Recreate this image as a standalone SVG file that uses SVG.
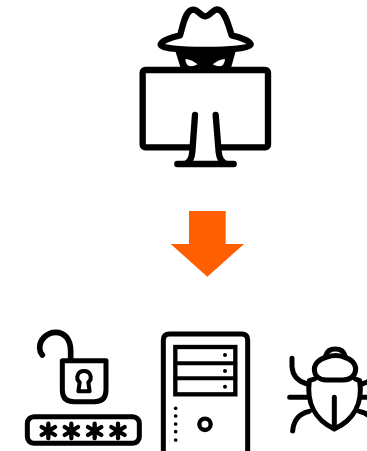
<svg xmlns="http://www.w3.org/2000/svg" width="367" height="451" viewBox="0 0 367 451">
<style>
.l{fill:none;stroke:#000;stroke-linecap:round;stroke-linejoin:round}
.a{stroke-width:19}
.b{stroke-width:15}
.d{fill:#000}
</style>
<rect width="367" height="451" fill="#fff"/>
<g id="spy" transform="translate(130,0) scale(.33333)">
<path class="d" d="M135 150H318L302 208H153Z"/>
<path fill="#fff" d="M166 177Q185 178 203 193Q183 203 172 195Q166 187 166 177ZM285 177Q266 178 248 193Q268 203 279 195Q285 187 285 177Z"/>
<path class="l a" d="M150 106C160 75 165 30 190 29C205 29 212 49 226 49C240 49 248 28 262 28C285 30 295 75 305 106C335 112 362 125 362 134C362 145 300 150 226 150C150 150 92 145 92 134C92 125 120 112 150 106Z"/>
<rect class="l a" x="38" y="210" width="376" height="232" rx="8"/>
<path fill="#fff" d="M195 345L186 492H268L257 345Z"/>
<path class="l a" d="M195 345L187 455Q185 485 165 492M257 345L266 455Q268 485 290 492M142 492H311"/>
</g>
<g id="arrow" transform="translate(160,200) scale(.33333)">
<path fill="#ff5f00" d="M87 33H197V132H252L142 230L32 132H87Z"/>
</g>
<g id="lock" transform="translate(15,325) scale(.33333)">
<path class="l b" d="M142 107H273V195Q273 230 238 230H177Q142 230 142 195Z"/>
<path class="l" stroke-width="17" d="M167 105V78C167 42 148 22 122 22C95 22 74 45 74 68Q74 80 82 90"/>
<path class="l" stroke-width="12" d="M194 172C180 160 188 138 207 138C226 138 234 160 220 172L224 199H190Z"/>
<rect class="l b" x="37" y="275" width="336" height="80" rx="20"/>
<g class="l" stroke-width="13">
<path d="M100 296V340M80 306L120 330M120 306L80 330"/>
<path d="M169 296V340M149 306L189 330M189 306L149 330"/>
<path d="M239 296V340M219 306L259 330M259 306L219 330"/>
<path d="M309 296V340M289 306L329 330M329 306L289 330"/>
</g>
</g>
<g id="server" transform="translate(150,325) scale(.33333)">
<path class="l b" d="M40 400V45Q40 27 58 27H275Q293 27 293 45V400"/>
<rect x="76" y="66" width="180" height="142" fill="none" stroke="#000" stroke-width="13"/>
<path class="l" stroke-width="12" d="M76 115H256M76 160H256" stroke-linecap="butt"/>
<g class="d">
<circle cx="225" cy="90" r="6"/><circle cx="225" cy="138" r="6"/><circle cx="225" cy="185" r="6"/>
<circle cx="77" cy="250" r="5.5"/><circle cx="77" cy="273" r="5.5"/><circle cx="77" cy="297" r="5.5"/><circle cx="77" cy="320" r="5.5"/><circle cx="77" cy="345" r="5.5"/>
</g>
<circle cx="165" cy="298" r="17" fill="none" stroke="#000" stroke-width="13"/>
</g>
<g id="bug" transform="translate(277,335) scale(.33333)">
<path class="l b" d="M146 62C150 48 160 42 175 42C190 42 200 48 204 62"/>
<path class="l b" d="M150 66C170 60 185 60 200 66C225 72 236 88 236 102C236 122 220 135 198 135H148C126 135 112 122 112 102C112 88 125 72 150 66Z"/>
<path class="l b" d="M112 132L97 137C88 205 115 255 172 282C230 255 258 205 248 137L235 132"/>
<path class="l b" d="M172 187V278M45 70V95C47 125 65 140 90 147M38 187H90M47 288C50 255 68 235 97 229M299 70V95C297 125 280 140 255 147M306 187H254M297 288C294 255 276 235 247 229"/>
</g>
</svg>
